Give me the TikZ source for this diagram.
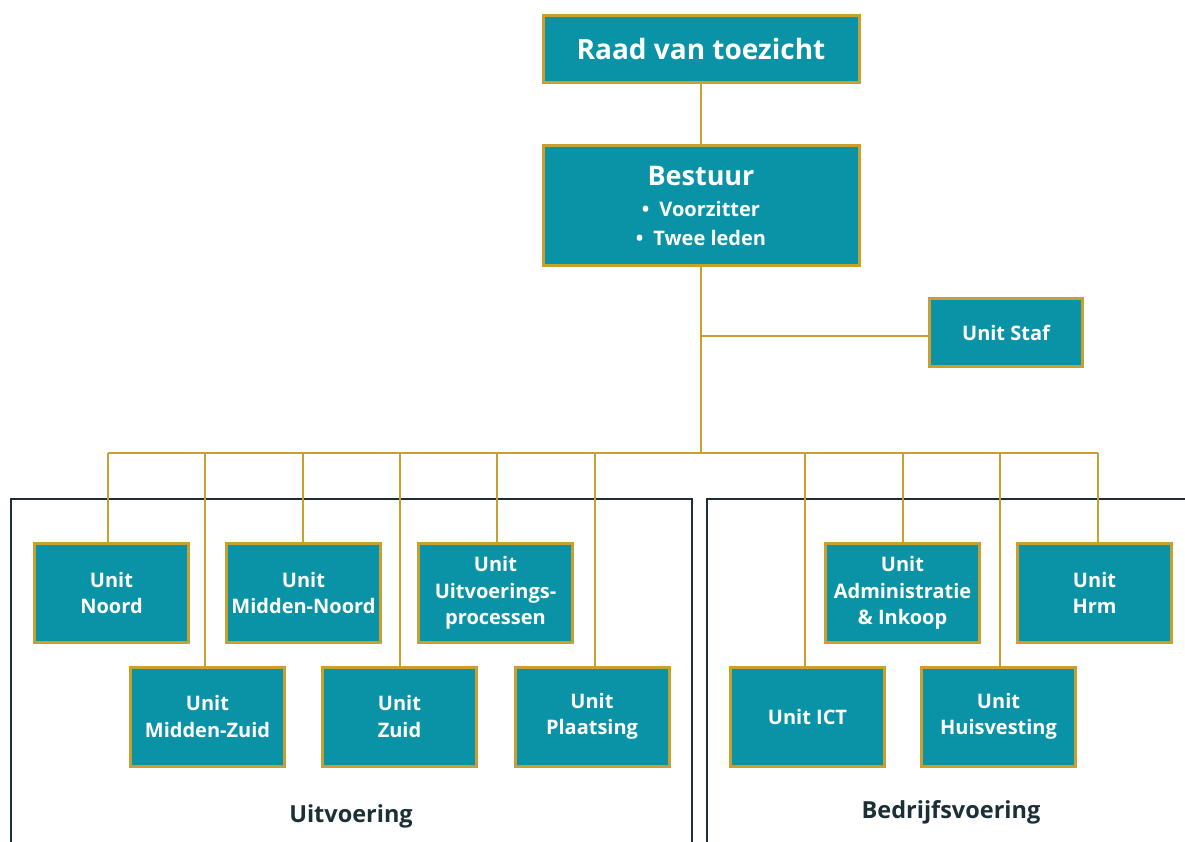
\documentclass[tikz,border=0pt]{standalone}
\usepackage{fontspec}
\setmainfont{Open Sans}
\definecolor{tealbox}{HTML}{0A93A6}
\definecolor{goldline}{HTML}{C9A030}
\definecolor{framecol}{HTML}{1B2F36}
\begin{document}
\begin{tikzpicture}[x=1pt,y=-1pt,
  box/.style={draw=goldline, line width=3pt, fill=tealbox, text=white,
    font=\bfseries\fontsize{20}{26.5}\selectfont, align=center, inner sep=0pt},
  unitbox/.style={box, minimum width=154pt, minimum height=99pt},
  conn/.style={draw=goldline, line width=2.8pt},
  frm/.style={draw=framecol, line width=2pt},
  grouplabel/.style={text=framecol, font=\bfseries\fontsize{23.5}{28}\selectfont}]
\useasboundingbox (0,0) rectangle (1185,841);

% frames
\draw[frm] (11,842) -- (11,499) -- (692,499) -- (692,842);
\draw[frm] (707,842) -- (707,499) -- (1186,499);

% top boxes
\node[box, minimum width=316pt, minimum height=67pt, font=\bfseries\fontsize{28}{32}\selectfont] (raad) at (701,49) {Raad van toezicht};
\node[box, minimum width=316pt, minimum height=120pt, font=\bfseries\fontsize{20}{29}\selectfont] (bestuur) at (701,205.5)
  {{\fontsize{27}{32}\selectfont Bestuur}\\[2pt] •\enspace Voorzitter\\ •\enspace Twee leden};
\node[box, minimum width=153pt, minimum height=68pt] (staf) at (1006,332.5) {Unit Staf};

% units
\node[unitbox] (noord) at (111.5,593) {Unit\\Noord};
\node[unitbox] (mnoord) at (303.5,593) {Unit\\Midden-Noord};
\node[unitbox] (uitv) at (495.5,593) {Unit\\Uitvoerings-\\processen};
\node[unitbox] (admin) at (902.5,593) {Unit\\Administratie\\\& Inkoop};
\node[unitbox] (hrm) at (1094.5,593) {Unit\\Hrm};
\node[unitbox] (mzuid) at (207.5,716.5) {Unit\\Midden-Zuid};
\node[unitbox] (zuid) at (399.5,716.5) {Unit\\Zuid};
\node[unitbox] (plaats) at (592,716.5) {Unit\\Plaatsing};
\node[unitbox] (ict) at (807.5,716.5) {Unit ICT};
\node[unitbox] (huis) at (998.5,716.5) {Unit\\Huisvesting};

% bus coordinates
\coordinate (b1) at (108,453);
\coordinate (b2) at (205,453);
\coordinate (b3) at (303,453);
\coordinate (b4) at (400,453);
\coordinate (b5) at (497,453);
\coordinate (b6) at (595,453);
\coordinate (b7) at (805,453);
\coordinate (b8) at (903,453);
\coordinate (b9) at (1000,453);
\coordinate (b10) at (1098,453);
\coordinate (trunk) at (bestuur.south |- b1);
\coordinate (split) at (bestuur.south |- 0,336);

% connectors
\draw[conn] (raad.south) -- (bestuur.north);
\draw[conn] (bestuur.south) -- (trunk);
\draw[conn] (split) -- (split -| staf.west);
\draw[conn] (b1) -- (b10);
\draw[conn] (b1) -- (b1 |- noord.north);
\draw[conn] (b2) -- (b2 |- mzuid.north);
\draw[conn] (b3) -- (b3 |- mnoord.north);
\draw[conn] (b4) -- (b4 |- zuid.north);
\draw[conn] (b5) -- (b5 |- uitv.north);
\draw[conn] (b6) -- (b6 |- plaats.north);
\draw[conn] (b7) -- (b7 |- ict.north);
\draw[conn] (b8) -- (b8 |- admin.north);
\draw[conn] (b9) -- (b9 |- huis.north);
\draw[conn] (b10) -- (b10 |- hrm.north);

% group labels
\node[grouplabel] (luitv) at (351,816) {Uitvoering};
\node[grouplabel] (lbedr) at (951,812) {Bedrijfsvoering};
\end{tikzpicture}
\end{document}
